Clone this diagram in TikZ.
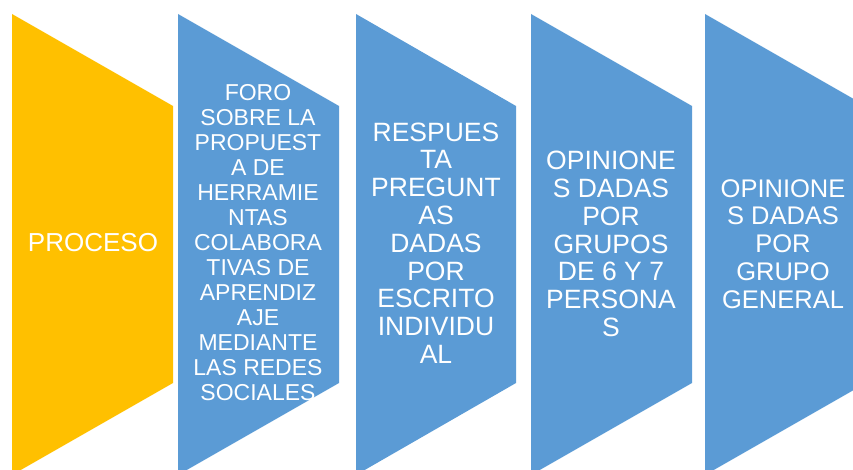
\documentclass[tikz,border=0pt]{standalone}
\usepackage{fontspec}
\setmainfont{Liberation Sans}
\usepackage{xcolor}
\definecolor{oro}{HTML}{FFC000}
\definecolor{azul}{HTML}{5B9BD5}

\begin{document}
\begin{tikzpicture}[x=1pt,y=-1pt,
  etiqueta/.style={text=white,align=center,inner sep=0pt,font=\fontsize{23}{25}\selectfont},
  grande/.style={etiqueta,font=\fontsize{26.5}{27.8}\selectfont}]
\useasboundingbox (0,0) rectangle (853,470);
\clip (0,0) rectangle (853,470);
\fill[color=oro] (12,14) -- (173,106) -- (173,383) -- (12,475) -- cycle;
\fill[color=azul] (178,14) -- (339,106) -- (339,383) -- (178,475) -- cycle;
\fill[color=azul] (356,14) -- (516,106) -- (516,383) -- (356,475) -- cycle;
\fill[color=azul] (531,14) -- (692,106) -- (692,383) -- (531,475) -- cycle;
\fill[color=azul] (705,14) -- (866,106) -- (866,383) -- (705,475) -- cycle;
\node[grande,font=\fontsize{26}{27.8}\selectfont] (proceso) at (93,243) {PROCESO};
\node[etiqueta] (foro) at (258,243) {FORO\\SOBRE LA\\PROPUEST\\A DE\\HERRAMIE\\NTAS\\COLABORA\\TIVAS DE\\APRENDIZ\\AJE\\MEDIANTE\\LAS REDES\\SOCIALES};
\node[grande] (respuesta) at (436,243) {RESPUES\\TA\\PREGUNT\\AS\\DADAS\\POR\\ESCRITO\\INDIVIDU\\AL};
\node[grande] (opgrupos) at (611,244) {OPINIONE\\S DADAS\\POR\\GRUPOS\\DE 6 Y 7\\PERSONA\\S};
\node[grande,font=\fontsize{25.5}{27.8}\selectfont] (opgeneral) at (783,244) {OPINIONE\\S DADAS\\POR\\GRUPO\\GENERAL};
\end{tikzpicture}
\end{document}
